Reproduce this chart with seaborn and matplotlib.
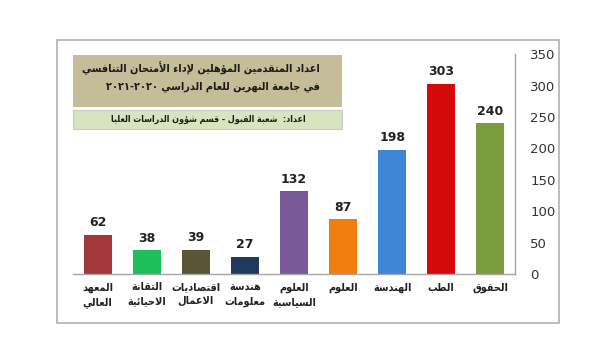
import matplotlib
matplotlib.use("Agg")
import matplotlib.pyplot as plt
import seaborn as sns
import pandas as pd
from matplotlib.patches import Rectangle

# data
categories = ["المعهد\nالعالي", "التقانة\nالاحيائية", "اقتصاديات\nالاعمال", "هندسة\nمعلومات",
              "العلوم\nالسياسية", "العلوم", "الهندسة", "الطب", "الحقوق"]
counts = [62, 38, 39, 27, 132, 87, 198, 303, 240]
bar_colors = ["#a33a3a", "#1cbf5a", "#5a5535", "#1f3a5c", "#7a5898",
              "#f07d10", "#3f86d6", "#d40a0a", "#7b9c3c"]
title_lines = ["اعداد المتقدمين المؤهلين لإداء الأمتحان التنافسي",
               "في جامعة النهرين للعام الدراسي ٢٠٢٠-٢٠٢١"]
credit = "اعداد:  شعبة القبول - قسم شؤون الدراسات العليا"
yticks = [0, 50, 100, 150, 200, 250, 300, 350]

# matplotlib has no arabic shaping / bidi, so do a small one by hand
DUAL = {'ئ': 0xFE89, 'ب': 0xFE8F, 'ت': 0xFE95, 'ث': 0xFE99, 'ج': 0xFE9D, 'ح': 0xFEA1,
        'خ': 0xFEA5, 'س': 0xFEB1, 'ش': 0xFEB5, 'ص': 0xFEB9, 'ض': 0xFEBD, 'ط': 0xFEC1,
        'ظ': 0xFEC5, 'ع': 0xFEC9, 'غ': 0xFECD, 'ف': 0xFED1, 'ق': 0xFED5, 'ك': 0xFED9,
        'ل': 0xFEDD, 'م': 0xFEE1, 'ن': 0xFEE5, 'ه': 0xFEE9, 'ي': 0xFEF1}
RIGHT = {'آ': 0xFE81, 'أ': 0xFE83, 'ؤ': 0xFE85, 'إ': 0xFE87, 'ا': 0xFE8D, 'ة': 0xFE93,
         'د': 0xFEA9, 'ذ': 0xFEAB, 'ر': 0xFEAD, 'ز': 0xFEAF, 'و': 0xFEED, 'ى': 0xFEEF}
LAM_ALEF = {'آ': 0xFEF5, 'أ': 0xFEF7, 'إ': 0xFEF9, 'ا': 0xFEFB}
DIGITS = "0123456789٠١٢٣٤٥٦٧٨٩"


def shape_line(s):
    chars = []
    i = 0
    while i < len(s):
        if s[i] == 'ل' and i + 1 < len(s) and s[i + 1] in LAM_ALEF:
            chars.append(('LA', s[i + 1]))
            i += 2
        else:
            chars.append(s[i])
            i += 1
    out = []
    for k, t in enumerate(chars):
        prev = chars[k - 1] if k > 0 else None
        nxt = chars[k + 1] if k + 1 < len(chars) else None
        p = prev in DUAL
        n = nxt in DUAL or nxt in RIGHT or isinstance(nxt, tuple)
        if isinstance(t, tuple):
            out.append(chr(LAM_ALEF[t[1]] + (1 if p else 0)))
        elif t in DUAL:
            out.append(chr(DUAL[t] + (3 if p and n else 2 if n else 1 if p else 0)))
        elif t in RIGHT:
            out.append(chr(RIGHT[t] + (1 if p else 0)))
        else:
            out.append(t)
    # visual order: reverse everything except digit runs
    tokens = []
    for c in out:
        if c in DIGITS and tokens and tokens[-1][0] in DIGITS:
            tokens[-1] += c
        else:
            tokens.append(c)
    return "".join(reversed(tokens))


def ar(s):
    return "\n".join(shape_line(line) for line in s.split("\n"))


sns.set_style("white")
plt.rcParams['font.family'] = ['DejaVu Sans']

df = pd.DataFrame({"category": [ar(c) for c in categories], "count": counts})

fig = plt.figure(figsize=(6, 3.61), dpi=100)
ax = fig.add_axes([0.122, 0.241, 0.736, 0.609])

sns.barplot(data=df, x="category", y="count", hue="category", palette=bar_colors,
            width=0.57, legend=False, ax=ax, edgecolor="none", saturation=1)

for cont in ax.containers:
    ax.bar_label(cont, padding=4, fontsize=9, fontweight="bold", color="#222222")

ax.set_ylim(0, 350)
ax.set_xlim(-0.5, 8.5)
ax.set_yticks(yticks)
ax.yaxis.tick_right()
ax.tick_params(axis="y", length=0, pad=11, labelsize=9.5, labelcolor="#333333")
ax.tick_params(axis="x", length=0, pad=6, labelsize=7.8, labelcolor="#222222")
for lbl in ax.get_xticklabels():
    lbl.set_fontweight("bold")
    lbl.set_fontstretch("condensed")
    lbl.set_linespacing(1.5)
ax.set_xlabel("")
ax.set_ylabel("")
for side in ["left", "top"]:
    ax.spines[side].set_visible(False)
for side in ["right", "bottom"]:
    ax.spines[side].set_color("#a6a6a6")
    ax.spines[side].set_linewidth(1.0)

# outer frame
fig.patches.append(Rectangle((57 / 600, 1 - 323 / 361), 502 / 600, 283 / 361,
                             transform=fig.transFigure, fill=False,
                             edgecolor="#b0b0b0", linewidth=1.2))
# title boxes
fig.patches.append(Rectangle((73 / 600, 1 - 107 / 361), 269 / 600, 52 / 361,
                             transform=fig.transFigure, facecolor="#c4bd97",
                             edgecolor="none"))
fig.patches.append(Rectangle((73 / 600, 1 - 129 / 361), 269 / 600, 19 / 361,
                             transform=fig.transFigure, facecolor="#d7e4bd",
                             edgecolor="#c8c8c8", linewidth=0.8))
fig.text(320 / 600, 1 - 68 / 361, ar(title_lines[0]), ha="right", va="center",
         fontsize=7.8, fontweight="bold", fontstretch="condensed", color="#1a1a1a")
fig.text(320 / 600, 1 - 87 / 361, ar(title_lines[1]), ha="right", va="center",
         fontsize=7.8, fontweight="bold", fontstretch="condensed", color="#1a1a1a")
fig.text(306 / 600, 1 - 119 / 361, ar(credit), ha="right", va="center",
         fontsize=6.4, fontweight="bold", fontstretch="condensed", color="#1a1a1a")

fig.savefig("out.png", dpi=100)
